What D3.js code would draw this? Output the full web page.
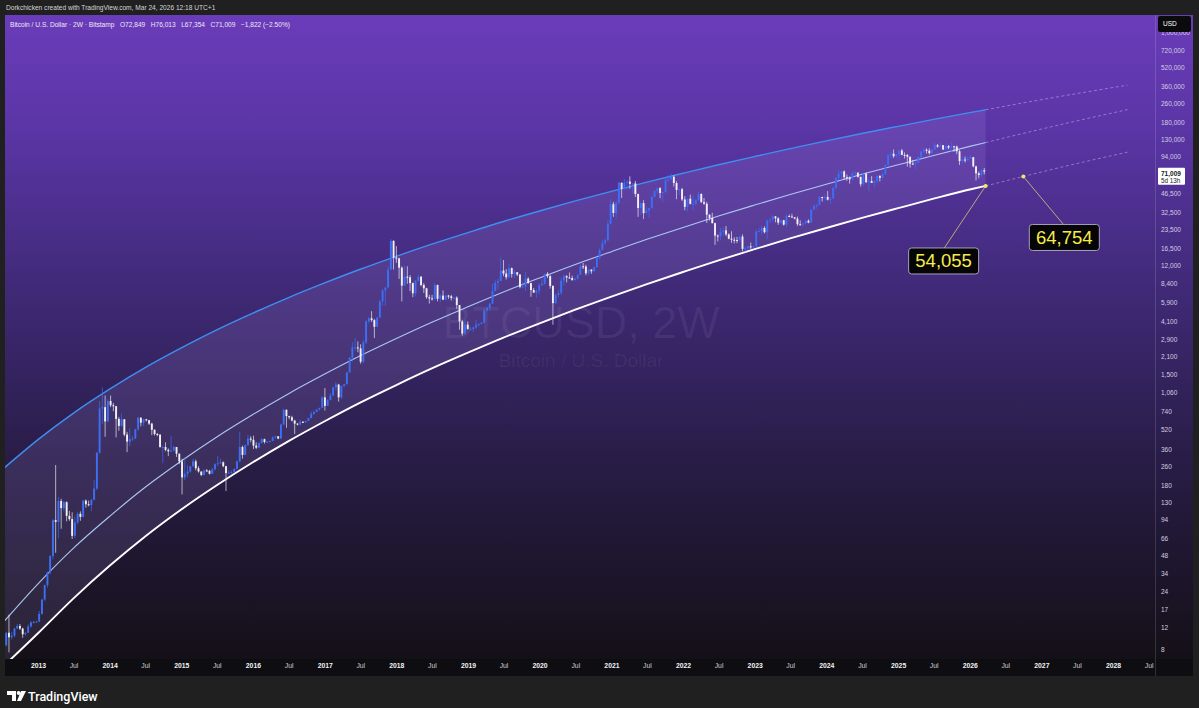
<!DOCTYPE html>
<html><head><meta charset="utf-8">
<script src="https://cdn.jsdelivr.net/npm/d3@7/dist/d3.min.js"></script>
<style>
html,body{margin:0;padding:0;background:#202020;overflow:hidden}
svg{display:block}
</style></head><body>
<svg id="chart" width="1199" height="708"></svg>
<script>
// ---------- DATA ----------
const firstBarDate = "2012-07-23";   // 2-week candles, every 14 days
const firstOpen = 8.6;
const closes = [
10.9,10.0,10.3,11.8,12.4,11.8,10.6,10.9,12.3,13.3,13.4,13.5,
15.6,20.5,27.0,34.5,47,93,90,134,117,131,101,95,69,89,105,99,135,126,124,137,170,336,780,800,610,900,
830,815,640,560,635,475,415,435,440,525,655,595,635,625,585,520,480,475,375,375,355,345,350,375,330,285,
210,225,235,260,285,250,235,220,240,238,225,245,270,275,280,260,228,230,233,247,285,375,322,388,440,430,
385,370,405,435,412,415,420,450,460,440,575,760,675,660,620,585,575,605,600,615,650,705,730,765,790,965,
820,920,1000,1170,1230,965,1200,1240,1550,2050,2500,2500,2450,1900,2750,4100,4350,4200,3700,4400,6000,7400,7800,11000,19000,13800,
13600,11400,8100,9600,9500,8500,7000,8900,9600,8200,7700,6500,6350,6250,8200,6300,6700,6200,6700,6600,6400,6450,5600,4100,3250,3850,3550,
3550,3650,3850,3900,4000,5050,5300,5750,7300,8550,8850,10800,10200,9500,11300,10100,10450,10000,7900,7950,9250,8500,7450,7100,7350,8150,
8400,10150,9700,8050,5800,6800,7050,8900,9700,9450,9350,9000,9250,9950,11700,11650,10250,11000,10650,11500,13800,15950,18200,19200,26300,38200,
32300,39300,57500,51200,57500,58800,56200,56700,46400,35500,39000,32200,33800,35400,43800,49300,51800,47300,48200,60800,61300,64400,57200,50100,50800,41800,
36300,42400,38400,38400,41300,46400,39700,38500,31300,29400,26600,21000,20800,22600,23200,21500,19800,19400,19300,19200,20600,16300,16500,17100,16850,17100,
22700,22900,24300,22400,28000,28500,30300,29200,26900,28100,25900,30500,30200,29800,29050,26100,25900,26500,27900,26900,34500,37100,37500,43800,43700,43900,
41600,42600,52100,63100,68400,71300,63900,63100,61400,68500,69600,64300,55900,68200,58100,59400,57300,59100,65600,63000,67900,80400,97900,99900,95200,98300,
106200,97700,97600,94200,82600,82400,83700,93700,104100,107800,105700,101000,108200,117300,114200,117400,108200,115300,112100,115100,114500,104700,86800,89400,88200,91000,
93500,78500,68800,66500,72831,71009
];
const highs = [
11.0,15.4,11.1,12.0,12.9,12.9,12.0,11.0,12.8,13.6,13.7,13.7,
16.5,20.8,27.2,34.9,48,95,266,145,140,134,133,111,108,100,108,110,137,138,135,140,200,340,900,1163,1000,935,
1000,865,820,665,710,640,500,535,460,530,665,660,640,640,625,595,525,490,475,385,410,365,460,385,375,330,
300,310,265,262,300,295,260,235,245,246,242,252,275,315,300,285,262,242,240,249,290,500,385,395,470,460,
465,410,410,445,440,420,425,460,465,460,585,780,770,680,680,630,590,630,615,620,655,740,750,765,790,980,
1150,935,1050,1180,1290,1250,1210,1245,1560,2080,2760,3000,2800,2650,2900,4200,4480,4980,4300,4450,6180,7600,7900,11800,19666,19200,
17200,13800,11700,11800,11700,9900,8600,9000,9950,9700,8500,7780,6800,6800,8500,8250,6900,7400,6800,6800,6800,6500,6600,5600,4200,4250,4100,
3700,3700,4200,3950,4050,5300,5450,5850,8350,9100,9300,13900,13200,11100,12300,11450,10950,10500,10050,8800,10500,9500,8500,7750,7550,8450,
9200,10200,10500,9950,8150,6950,7450,9450,10050,9900,10400,9800,9450,10000,12100,12450,12050,11150,11000,11700,14000,16500,19500,19900,28400,42000,
40000,41000,58300,57500,61800,60000,64900,57000,59500,46600,39500,41300,36000,35500,44700,49500,51900,52900,48400,62900,67000,69000,66300,59100,51400,52100,
44400,42500,45800,45400,42300,48200,47000,42900,40000,31400,32400,26900,21500,24300,24600,25200,21900,22800,20400,20500,21000,21500,17200,17400,18400,17200,
23300,24200,25200,25100,28400,29200,31000,30500,29800,28200,28400,31400,31400,31800,29900,30200,28100,26900,28000,28600,35000,38000,38400,44700,44000,45900,
49000,43900,52800,64000,73800,71800,72700,67200,64700,71900,72000,70200,64500,68400,70000,62700,65100,60700,66500,66000,69500,81400,99600,104000,108300,99900,
106400,109400,102500,99500,95000,88800,86000,95800,104900,111900,110400,110500,110500,123200,120200,124500,117600,116700,117900,126200,116000,116400,107500,94200,94600,94700,
97500,93800,79500,71000,74500,76013
];
const lows = [
8.4,7.5,9.6,10.0,11.8,11.5,9.9,10.3,10.9,12.0,13.0,13.2,
13.3,15.4,20.0,25.7,33,44,50,66,79,110,91,92,65,66,86,92,98,118,121,110,136,165,330,580,455,600,
800,740,450,510,555,460,340,380,420,435,510,555,560,610,570,470,465,460,370,275,345,315,340,345,310,270,
152,200,210,230,255,240,230,215,218,232,222,224,240,260,272,255,162,225,225,232,245,280,300,320,385,410,
360,360,365,400,400,405,410,420,440,435,435,570,540,635,610,480,565,565,595,595,615,645,690,725,750,790,
750,820,910,990,1100,890,930,1165,1230,1550,1900,2350,2280,1830,1850,2650,3950,4050,2980,3700,4400,5500,5500,7800,11000,11000,
12500,9200,6000,8100,8400,7300,6500,6600,8700,7980,7050,6300,5750,6100,6200,6000,5880,6150,6100,6300,6100,6200,5200,3500,3120,3200,3500,
3450,3350,3550,3700,3850,3950,4950,5050,5700,7250,7450,8800,9700,9100,9400,9450,9350,9700,7700,7800,7300,8400,6550,7050,6450,6850,
8100,8300,9350,7650,3850,5700,6500,6800,8100,8600,9250,8900,8900,9100,9900,11100,9850,9850,10150,10550,11400,13200,15800,17600,19000,25900,
30000,29000,38000,43000,50300,50400,51200,47000,43800,30000,31200,28800,32000,29300,35200,43800,46300,42800,39600,47100,58000,60000,53500,42000,45600,40600,
34000,33000,38000,34300,37200,40500,39200,37600,26700,28000,26500,17600,18800,19200,20800,20800,19600,18300,18100,18200,18800,15600,15500,16000,16300,16400,
16900,22300,21400,21900,19600,26600,27200,27000,25800,26000,25400,24800,29800,29500,28600,25200,25350,24900,26000,26550,26700,34000,35000,37400,40200,41500,
41000,38500,42500,50500,60800,60800,60700,59600,56500,60800,67100,63400,53500,54300,57100,49000,57200,52600,57500,58900,62500,66800,80200,90800,92200,91500,
89300,97000,91200,78200,76600,81600,74500,83200,92800,101400,100400,98200,100900,107500,112000,112600,107400,107300,108700,103000,103500,98900,80600,83800,84500,86500,
90500,77000,60000,62500,64800,67354
];
const lastOpen = 72849;

// regression-style bands (solid part)
const bandDates = ["2012-07-01","2013-01-01","2013-07-01","2014-01-01","2014-07-01","2015-01-01","2015-07-01","2016-01-01","2016-07-01","2017-01-01","2017-07-01","2018-01-01","2018-07-01","2019-01-01","2019-07-01","2020-01-01","2020-07-01","2021-01-01","2021-07-01","2022-01-01","2022-07-01","2023-01-01","2023-07-01","2024-01-01","2024-07-01","2025-01-01","2025-07-01","2026-01-01","2026-03-23"];
const upperBand  = [242,431,715,1127,1698,2471,3486,4797,6457,8527,11060,14160,17850,22260,27490,33570,40630,48810,58170,68890,81030,94760,110100,127500,146800,168300,192100,218500,230700];
const middleBand = [12.9,27.7,54.6,100,174,287,454,696,1035,1502,2127,2957,4031,5415,7180,9382,12120,15470,19560,24530,30480,37580,45950,55890,67450,80990,96690,114900,123500];
const lowerBand  = [5.6,10.8,21.0,39.0,68.2,114,181,280,419,612,873,1220,1673,2259,3009,3951,5124,6574,8342,10500,13100,16210,19890,24280,29390,35400,42410,50520,54055];
// dashed projections
const projDates  = ["2026-03-23","2026-10-01","2027-04-01","2027-10-01","2028-03-15"];
const upperProj  = [230700,263000,296400,332800,368700];
const middleProj = [123500,147200,172700,201700,231100];
const lowerProj  = [54055,64754,76480,89590,102900];
// annotations
const noteDates  = ["2026-03-23","2026-10-01"];
const noteValues = [54055,64754];

const priceTicks = [1000000,720000,520000,360000,260000,180000,130000,94000,46500,32500,23500,16500,12000,8400,5900,4100,2900,2100,1500,1060,740,520,360,260,180,130,94,66,48,34,24,17,12,8];
const axisYears = [2013,2014,2015,2016,2017,2018,2019,2020,2021,2022,2023,2024,2025,2026,2027,2028];
const lastPrice = 71009;
const countdown = "5d 13h";

const headerText = "Dorkchicken created with TradingView.com, Mar 24, 2026 12:18 UTC+1";
const legendText = "Bitcoin / U.S. Dollar · 2W · Bitstamp   O72,849   H76,013   L67,354   C71,009   −1,822 (−2.50%)";

// ---------- LAYOUT ----------
const FONT = "'Liberation Sans', Arial, sans-serif";
const P = {left:5, right:1155, top:15, bottom:659, axisRight:1193, axisBottom:676};
const parse = d3.utcParse("%Y-%m-%d");
const svg = d3.select("#chart");

const x = d3.scaleUtc().domain([parse("2013-01-01"), parse("2028-01-01")]).range([38, 1113]);
const y = d3.scaleLog().domain([8, 720000]).range([649, 50]);

const defs = svg.append("defs");
const grad = defs.append("linearGradient").attr("id","bg").attr("x1",0).attr("y1",0).attr("x2",0).attr("y2",1);
[[0,"#6b3cba"],[0.18,"#5a35a5"],[0.42,"#402a78"],[0.68,"#291d48"],[1,"#141017"]]
  .forEach(([o,c])=>grad.append("stop").attr("offset",o).attr("stop-color",c));
defs.append("clipPath").attr("id","clip").append("rect")
  .attr("x",P.left).attr("y",P.top).attr("width",P.right-P.left).attr("height",P.bottom-P.top);

// backgrounds
svg.append("rect").attr("x",0).attr("y",0).attr("width",1199).attr("height",708).attr("fill","#202020");
svg.append("rect").attr("x",P.left).attr("y",P.top).attr("width",P.axisRight-P.left).attr("height",P.bottom-P.top).attr("fill","url(#bg)");
svg.append("rect").attr("x",P.left).attr("y",P.bottom).attr("width",P.axisRight-P.left).attr("height",P.axisBottom-P.bottom).attr("fill","#0e0d12");

const plot = svg.append("g").attr("clip-path","url(#clip)");

// watermark
plot.append("text").attr("x",581).attr("y",338).attr("text-anchor","middle")
  .attr("font-family",FONT).attr("font-size",45).attr("fill","rgba(255,255,255,0.06)").text("BTCUSD, 2W");
plot.append("text").attr("x",581).attr("y",367).attr("text-anchor","middle")
  .attr("font-family",FONT).attr("font-size",19).attr("fill","rgba(255,255,255,0.06)").text("Bitcoin / U.S. Dollar");

// bands
const band = bandDates.map((d,i)=>({date:parse(d), u:upperBand[i], m:middleBand[i], l:lowerBand[i]}));
const proj = projDates.map((d,i)=>({date:parse(d), u:upperProj[i], m:middleProj[i], l:lowerProj[i]}));
const curve = d3.curveMonotoneX;
plot.append("path").datum(band)
  .attr("d", d3.area().x(d=>x(d.date)).y0(d=>y(d.l)).y1(d=>y(d.u)).curve(curve))
  .attr("fill","rgba(190,170,255,0.13)");
const lineOf = key => d3.line().x(d=>x(d.date)).y(d=>y(d[key])).curve(curve);
[["u","#3f8ff2",1.4],["m","#abc7f3",1.1],["l","#ffffff",1.9]].forEach(([k,c,w])=>{
  plot.append("path").datum(band).attr("d",lineOf(k)).attr("fill","none").attr("stroke",c).attr("stroke-width",w);
  plot.append("path").datum(proj).attr("d",lineOf(k)).attr("fill","none")
    .attr("stroke","rgba(218,180,245,0.55)").attr("stroke-width",0.9).attr("stroke-dasharray","3,2.5");
});

// candles
const bars = closes.map((c,i)=>({
  date: d3.utcDay.offset(parse(firstBarDate), 14*i),
  o: i===closes.length-1 ? lastOpen : (i===0 ? firstOpen : closes[i-1]),
  c, h: highs[i], l: lows[i]
}));
const UP = "#3c6ff6", DOWN = "#f1f0f6";
const cg = plot.append("g");
bars.forEach(b=>{
  const up = b.c >= b.o, col = up ? UP : DOWN;
  const cx = x(b.date);
  const hi = Math.max(b.h,b.o,b.c), lo = Math.min(b.l,b.o,b.c);
  cg.append("line").attr("x1",cx).attr("x2",cx).attr("y1",y(hi)).attr("y2",y(lo))
    .attr("stroke",col).attr("stroke-width",0.8).attr("opacity",0.85);
  const yt = y(Math.max(b.o,b.c)), yb = y(Math.min(b.o,b.c));
  cg.append("rect").attr("x",cx-0.95).attr("width",1.9).attr("y",yt).attr("height",Math.max(1,yb-yt)).attr("fill",col);
});

// annotations
const offsets = [[-42,75],[41,61]];
noteDates.forEach((d,i)=>{
  const px = x(parse(d)), py = y(noteValues[i]);
  const bx = px+offsets[i][0], by = py+offsets[i][1];
  svg.append("line").attr("x1",px).attr("y1",py).attr("x2",bx).attr("y2",by-12)
    .attr("stroke","#c9b77a").attr("stroke-width",0.9);
  svg.append("circle").attr("cx",px).attr("cy",py).attr("r",2).attr("fill","#f3e56a");
  svg.append("rect").attr("x",bx-35).attr("y",by-13).attr("width",70).attr("height",26).attr("rx",3)
    .attr("fill","#050506").attr("stroke","#a79fbd").attr("stroke-width",1);
  svg.append("text").attr("x",bx).attr("y",by+6.5).attr("text-anchor","middle")
    .attr("font-family",FONT).attr("font-size",18.5).attr("fill","#f6ec4a").text(d3.format(",")(noteValues[i]));
});

// separators
svg.append("line").attr("x1",P.right+0.5).attr("x2",P.right+0.5).attr("y1",P.top).attr("y2",P.axisBottom)
  .attr("stroke","rgba(255,255,255,0.14)");

// price axis
const ya = svg.append("g").attr("transform",`translate(${P.right},0)`)
  .call(d3.axisRight(y).tickValues(priceTicks).tickFormat(d3.format(",")).tickSize(0).tickPadding(6));
ya.select(".domain").remove();
ya.attr("font-family",FONT).attr("font-size",6.5);
ya.selectAll("text").attr("fill","#d2cee2");

// last price label
const ly = y(lastPrice);
svg.append("rect").attr("x",1158).attr("y",ly-4).attr("width",27).attr("height",17).attr("rx",1).attr("fill","#ffffff");
svg.append("text").attr("x",1161).attr("y",ly+4).attr("font-family",FONT).attr("font-size",6.5).attr("font-weight","bold")
  .attr("fill","#131722").text(d3.format(",")(lastPrice));
svg.append("text").attr("x",1161).attr("y",ly+11).attr("font-family",FONT).attr("font-size",6.3)
  .attr("fill","#131722").text(countdown);

// USD box (covers the top tick label partly, as in the original)
svg.append("rect").attr("x",1158).attr("y",16).attr("width",33).attr("height",16).attr("rx",2).attr("fill","#0b0b0e");
svg.append("text").attr("x",1163).attr("y",26).attr("font-family",FONT).attr("font-size",6.5).attr("fill","#ffffff").text("USD");

// time axis
const timeTicks = [];
axisYears.forEach(yr=>{ timeTicks.push(new Date(Date.UTC(yr,0,1))); timeTicks.push(new Date(Date.UTC(yr,6,1))); });
const xa = svg.append("g").attr("transform",`translate(0,${P.bottom})`)
  .call(d3.axisBottom(x).tickValues(timeTicks).tickSize(0).tickPadding(4)
    .tickFormat(d=>d.getUTCMonth()===0 ? String(d.getUTCFullYear()) : "Jul"));
xa.select(".domain").remove();
xa.attr("font-family",FONT).attr("font-size",6.8);
xa.selectAll("text").attr("fill",d=>d.getUTCMonth()===0?"#f2f2f2":"#cfcfcf")
  .attr("font-weight",d=>d.getUTCMonth()===0?"bold":"normal");

// header + legend
svg.append("text").attr("x",6).attr("y",10).attr("font-family",FONT).attr("font-size",6.6).attr("fill","#d6d6d6").text(headerText);
svg.append("text").attr("x",10).attr("y",26.5).attr("font-family",FONT).attr("font-size",6.6).attr("fill","#ece8f6")
  .attr("xml:space","preserve").style("white-space","pre").text(legendText);

// TradingView logo
const lg = svg.append("g").attr("fill","#ffffff");
lg.append("path").attr("d","M7,691 h9 v10 h-4 v-6 h-5 z");
lg.append("circle").attr("cx",18.6).attr("cy",693).attr("r",1.9);
lg.append("path").attr("d","M21,691 h5 l-5,10 h-4 z");
svg.append("text").attr("x",28).attr("y",700.5).attr("font-family","Roboto, 'Liberation Sans', sans-serif")
  .attr("font-size",12.5).attr("font-weight",500).attr("fill","#ffffff").text("TradingView");
</script>
</body></html>
